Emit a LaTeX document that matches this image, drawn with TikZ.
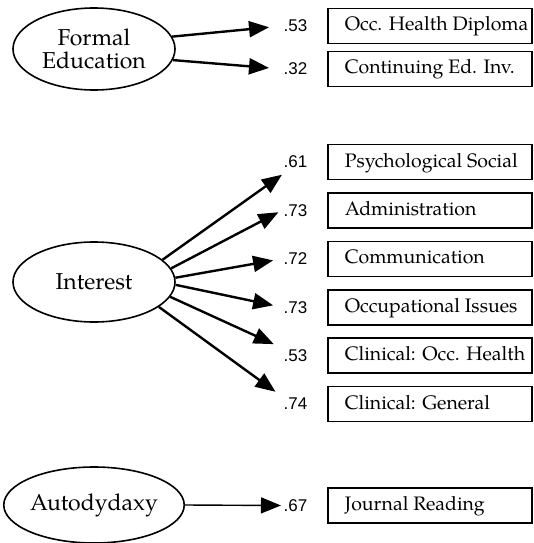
\documentclass[tikz,border=0pt]{standalone}
\usepackage{fontspec}
\setmainfont{TeX Gyre Pagella}
\newfontfamily\loadingfont{Liberation Sans}
\usepackage{tikz}
\usetikzlibrary{shapes.geometric,arrows.meta,positioning}
\tikzstyle{factor} = [ellipse, draw=black, line width=1.6pt, minimum width=162pt,
    minimum height=80pt, inner sep=0pt, align=center, font=\fontsize{23}{23}\selectfont]
\tikzstyle{indicator} = [rectangle, draw=black, line width=1.6pt, minimum width=204pt,
    minimum height=35pt, inner sep=0pt, text height=14pt, text depth=4pt, font=\fontsize{19.5}{22}\selectfont]
\tikzstyle{loading} = [inner sep=1.5pt, font=\loadingfont\fontsize{17}{18}\selectfont]
\tikzstyle{arrow} = [-{Triangle[length=20pt, width=16pt]}, line width=2.4pt]
\newcommand{\itemtext}[1]{\makebox[204pt][l]{\hspace{17pt}#1}}

\begin{document}
\begin{tikzpicture}[x=1pt, y=-1pt]
\useasboundingbox (0,0) rectangle (534,543);
\node[factor, minimum height=82pt] (formal) at (94,49) {Formal\\Education};
\node[factor] (interest) at (94,282) {Interest};
\node[factor, minimum height=76pt] (autodydaxy) at (94,505) {Autodydaxy};

\node[indicator, anchor=west] (diploma) at (327,26) {\itemtext{Occ. Health Diploma}};
\node[indicator, below=6.4pt of diploma] (continuing) {\itemtext{Continuing Ed. Inv.}};

\node[indicator, anchor=west] (psychsocial) at (327,162) {\itemtext{Psychological Social}};
\node[indicator, below=11.8pt of psychsocial] (administration) {\itemtext{Administration}};
\node[indicator, below=11.8pt of administration] (communication) {\itemtext{Communication}};
\node[indicator, below=11.8pt of communication] (occissues) {\itemtext{Occupational Issues}};
\node[indicator, below=11.8pt of occissues] (clinocc) {\itemtext{Clinical: Occ. Health}};
\node[indicator, below=11.8pt of clinocc] (clingeneral) {\itemtext{Clinical: General}};

\node[indicator, anchor=west] (journal) at (327,505.5) {\itemtext{Journal Reading}};

\node[loading, left=18pt of diploma] (ldiploma) {.53};
\node[loading, left=18pt of continuing] (lcontinuing) {.32};
\node[loading, left=18pt of psychsocial] (lpsychsocial) {.61};
\node[loading, left=18pt of administration] (ladministration) {.73};
\node[loading, left=18pt of communication] (lcommunication) {.72};
\node[loading, left=18pt of occissues] (loccissues) {.73};
\node[loading, left=18pt of clinocc] (lclinocc) {.53};
\node[loading, left=18pt of clingeneral] (lclingeneral) {.74};
\node[loading, left=18pt of journal] (ljournal) {.67};

\draw[arrow, shorten >=13pt] (formal.9) -- (ldiploma.west);
\draw[arrow, shorten >=13pt] (formal.-8) -- (lcontinuing.west);
\draw[arrow] (interest.18) -- ([yshift=-5pt]lpsychsocial.south west);
\draw[arrow, shorten >=4pt] (interest.10) -- (ladministration.west);
\draw[arrow, shorten >=9pt] (interest.3) -- (lcommunication.west);
\draw[arrow, shorten >=9pt] (interest.-2) -- (loccissues.west);
\draw[arrow, shorten >=9pt] (interest.-11) -- (lclinocc.north west);
\draw[arrow, shorten >=8pt] (interest.-21) -- (lclingeneral.north west);
\draw[arrow, line width=1.4pt, shorten >=1pt] (autodydaxy.east) -- (ljournal.west);
\end{tikzpicture}
\end{document}
